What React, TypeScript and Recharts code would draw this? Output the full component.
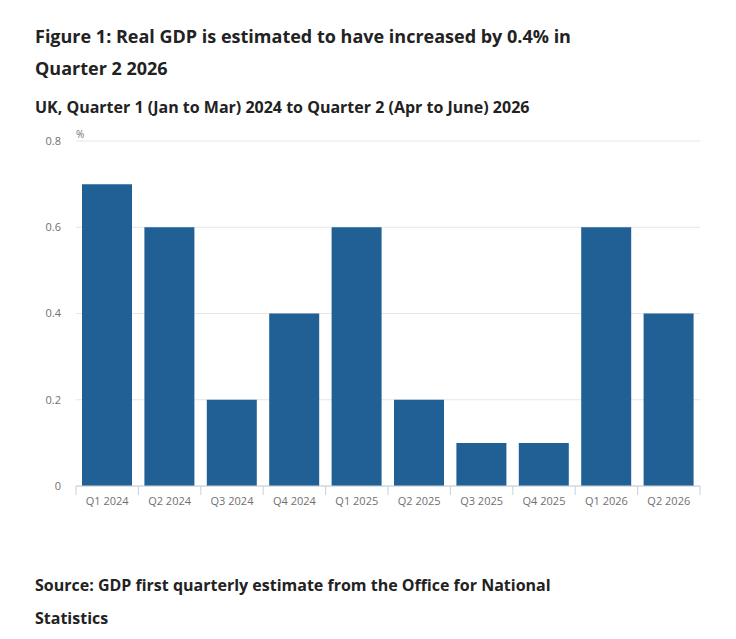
import React from "react";
import { Bar, BarChart, CartesianGrid, XAxis, YAxis } from "recharts";

const quarters = [
  "Q1 2024",
  "Q2 2024",
  "Q3 2024",
  "Q4 2024",
  "Q1 2025",
  "Q2 2025",
  "Q3 2025",
  "Q4 2025",
  "Q1 2026",
  "Q2 2026",
];
const growth = [0.7, 0.6, 0.2, 0.4, 0.6, 0.2, 0.1, 0.1, 0.6, 0.4];
const yTicks = [0, 0.2, 0.4, 0.6, 0.8];

const data = quarters.map((q, i) => ({ quarter: q, value: growth[i] }));

const FONT = "'Open Sans', sans-serif";
const TEXT = "#222222";
const AXIS = "#c5d0dc";

function QuarterTick(props: any) {
  const { x, y, payload, index } = props;
  const half = payload?.offset || 31.2;
  const top = y - 8;
  return (
    <g>
      <line x1={x - half} x2={x - half} y1={top} y2={top + 9} stroke={AXIS} />
      {index === quarters.length - 1 && (
        <line x1={x + half} x2={x + half} y1={top} y2={top + 9} stroke={AXIS} />
      )}
      <text x={x} y={top + 19} textAnchor="middle" fill="#707071" fontSize={11} fontFamily={FONT}>
        {payload.value}
      </text>
    </g>
  );
}

export default function App() {
  return (
    <div style={{ position: "absolute", left: 0, top: 0, width: 736, height: 639, background: "#fff", fontFamily: FONT, color: TEXT }}>
      <div style={{ position: "absolute", left: 35, top: 20, fontSize: 18, fontWeight: 700, lineHeight: "32px", width: 600 }}>
        Figure 1: Real GDP is estimated to have increased by 0.4% in
        <br />
        Quarter 2 2026
      </div>
      <div style={{ position: "absolute", left: 35, top: 95, fontSize: 16, fontWeight: 700, lineHeight: "24px" }}>
        UK, Quarter 1 (Jan to Mar) 2024 to Quarter 2 (Apr to June) 2026
      </div>
      <div style={{ position: "absolute", left: 76, top: 127, fontSize: 10, color: "#707071" }}>%</div>
      <div style={{ position: "absolute", left: 0, top: 0 }}>
        <BarChart
          width={736}
          height={639}
          data={data}
          margin={{ top: 141, right: 36, left: 30, bottom: 123 }}
          barCategoryGap={6}
        >
          <CartesianGrid vertical={false} stroke="#e6e6e6" />
          <XAxis
            dataKey="quarter"
            height={30}
            interval={0}
            tickLine={false}
            axisLine={{ stroke: AXIS }}
            tick={<QuarterTick />}
          />
          <YAxis
            width={46}
            domain={[0, 0.8]}
            ticks={yTicks}
            tickFormatter={(v: number) => String(v)}
            axisLine={false}
            tickLine={false}
            tickSize={0}
            tickMargin={15}
            tick={{ fill: "#707071", fontSize: 11, fontFamily: FONT }}
          />
          <Bar dataKey="value" fill="#206095" isAnimationActive={false} />
        </BarChart>
      </div>
      <div style={{ position: "absolute", left: 35, top: 569, fontSize: 16, fontWeight: 700, lineHeight: "33px" }}>
        Source: GDP first quarterly estimate from the Office for National
        <br />
        Statistics
      </div>
    </div>
  );
}
